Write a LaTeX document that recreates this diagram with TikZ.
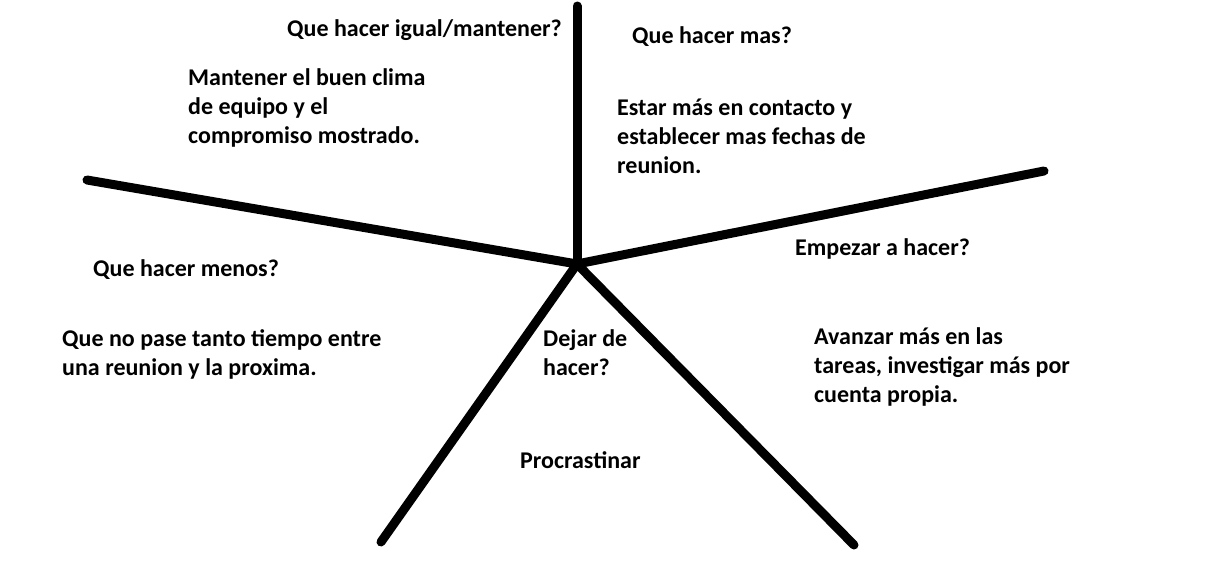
\documentclass[tikz,border=0pt]{standalone}
\usepackage{fontspec}
\setmainfont{Carlito}
\begin{document}
\begin{tikzpicture}[x=1pt,y=-1pt,
  spoke/.style={line width=9pt,line cap=round,black},
  lbl/.style={anchor=base west,inner sep=0pt,align=left,font=\bfseries\fontsize{24}{29}\selectfont,
    execute at begin node={\baselineskip=29pt\lineskiplimit=-20pt}}]
\useasboundingbox (0,0) rectangle (1221,570);
\coordinate (c) at (577,264);
\coordinate (t) at (577,6);
\coordinate (l) at (87,180);
\coordinate (r) at (1044,171);
\coordinate (bl) at (381,542);
\coordinate (br) at (854,545);
\draw[spoke] (c) -- (t);
\draw[spoke] (c) -- (l);
\draw[spoke] (c) -- (r);
\draw[spoke] (c) -- (bl);
\draw[spoke] (c) -- (br);
\node[lbl] (q1) at (287,36) {Que hacer igual/mantener?};
\node[lbl] (a1) at (188,143) {Mantener el buen clima\\de equipo y el\\compromiso mostrado.};
\node[lbl] (q2) at (632,43) {Que hacer mas?};
\node[lbl] (a2) at (617,173) {Estar más en contacto y\\establecer mas fechas de\\reunion.};
\node[lbl] (q3) at (795,255) {Empezar a hacer?};
\node[lbl] (a3) at (814,402) {Avanzar más en las\\tareas, investigar más por\\cuenta propia.};
\node[lbl] (q4) at (93,276) {Que hacer menos?};
\node[lbl] (a4) at (62,375) {Que no pase tanto tiempo entre\\una reunion y la proxima.};
\node[lbl] (q5) at (543,375) {Dejar de\\hacer?};
\node[lbl] (a5) at (520,468) {Procrastinar};
\end{tikzpicture}
\end{document}
